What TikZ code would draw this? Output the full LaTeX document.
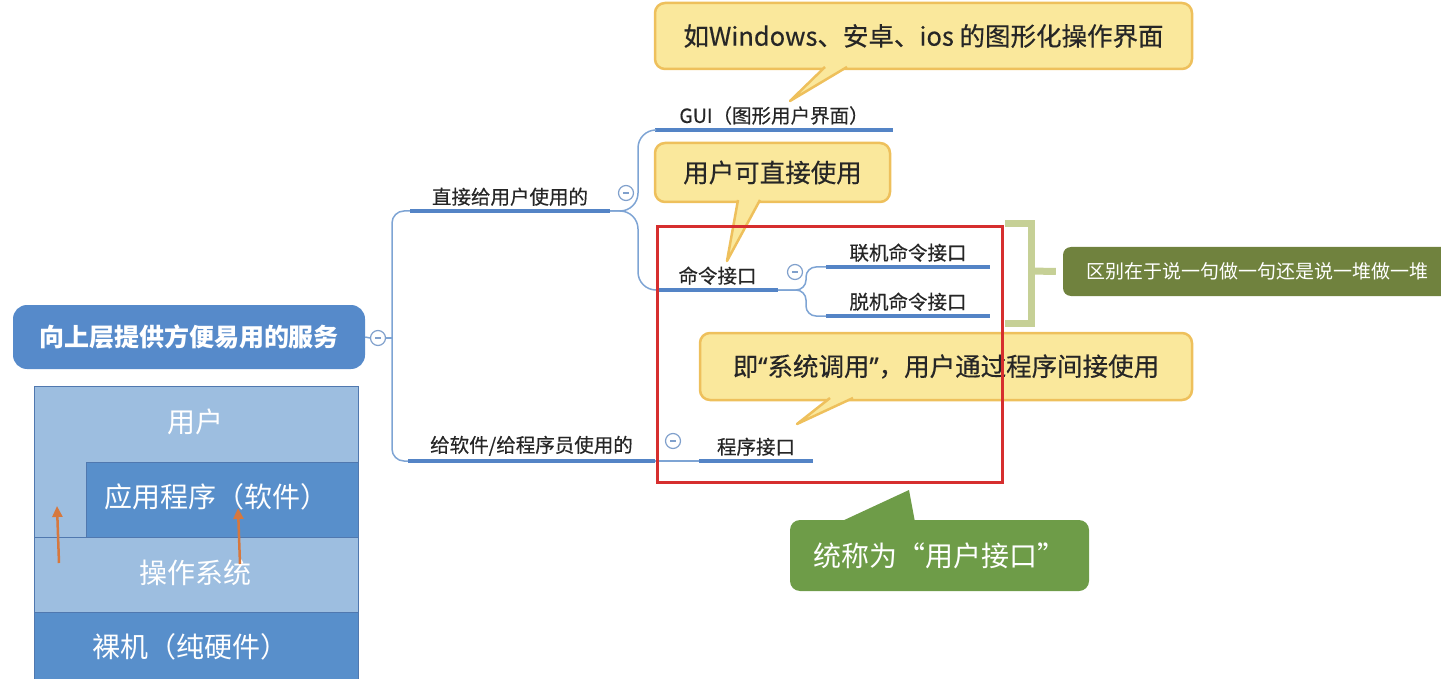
\documentclass[tikz,border=0pt]{standalone}
\usepackage{fontspec}
\setmainfont{Noto Sans CJK SC}
\newfontfamily\latinfont{Noto Sans}[FakeBold=0.4]
\newfontfamily\medfont{Noto Sans CJK SC}[FakeBold=0.4]
\usetikzlibrary{arrows.meta}

\definecolor{rootblue}{RGB}{86,138,202}
\definecolor{layerlight}{RGB}{157,190,224}
\definecolor{layerdark}{RGB}{88,143,203}
\definecolor{layerline}{RGB}{80,120,175}
\definecolor{lineblue}{RGB}{84,132,198}
\definecolor{thinblue}{RGB}{126,164,212}
\definecolor{foldblue}{RGB}{128,160,204}
\definecolor{noteyellow}{RGB}{250,232,156}
\definecolor{noteborder}{RGB}{238,192,92}
\definecolor{olive}{RGB}{112,130,62}
\definecolor{bracketgreen}{RGB}{198,208,150}
\definecolor{notegreen}{RGB}{110,156,72}
\definecolor{framered}{RGB}{214,46,46}
\definecolor{arroworange}{RGB}{214,120,62}
\definecolor{darktext}{RGB}{38,38,38}

\newcommand\rootfont{\fontsize{25}{27}\selectfont\bfseries}
\newcommand\topicfont{\medfont\fontsize{19.5}{22}\selectfont}
\newcommand\notefont{\medfont\fontsize{25.5}{28}\selectfont}
\newcommand\layerfont{\fontsize{28}{30}\selectfont}

% tail of a callout: fill, line, base y, left x, right x, tip
\newcommand\calltail[6]{%
  \fill[#1] (#4,#3) -- (#6) -- (#5,#3) -- cycle;
  \draw[#2] (#4,#3) -- (#6) -- (#5,#3);}

\tikzset{
  rootbox/.style={fill=rootblue, rounded corners=14pt, text=white, font=\rootfont,
    minimum width=352pt, minimum height=64pt},
  topic/.style={text=darktext, font=\topicfont, inner xsep=0pt, inner ysep=5pt,
    minimum width=#1, anchor=south},
  uline/.style={line width=4.5pt, lineblue},
  conn/.style={line width=1.5pt, thinblue},
  fold/.style={circle, draw=foldblue, fill=white, line width=1.2pt, minimum size=15pt, inner sep=0pt},
  note/.style={fill=noteyellow, draw=noteborder, line width=2.5pt, rounded corners=10pt,
    text=darktext, font=\notefont},
  notefill/.style={fill=noteyellow},
  noteline/.style={draw=noteborder, line width=2.5pt, line join=round},
  greennote/.style={fill=notegreen, rounded corners=10pt, text=white,
    font=\fontsize{28}{30}\selectfont, minimum width=299pt, minimum height=71pt},
  layer/.style={draw=layerline, line width=1pt},
  layertext/.style={text=white, font=\layerfont},
  upflow/.style={arroworange, line width=2.5pt, -{Triangle[length=11pt,width=10pt]}},
  frame/.style={draw=framered, line width=3pt, minimum width=345pt, minimum height=255pt},
  bracket/.style={bracketgreen, line width=7pt},
  diffbox/.style={fill=olive, rounded corners=8pt, text=white, font=\fontsize{19}{21}\selectfont,
    minimum width=389pt, minimum height=49pt}
}

\begin{document}
\begin{tikzpicture}[x=1pt, y=-1pt]
	\useasboundingbox (0,0) rectangle (1441,679);

	% layers
	\fill[layerlight, layer] (34,386) rectangle (358,537);
	\fill[layerdark, layer] (86,462) rectangle (358,537);
	\fill[layerlight, layer] (34,537) rectangle (358,612);
	\fill[layerdark, layer] (34,612) rectangle (358,690);
	\node[layertext] (user) at (195,422) {用户};
	\node[layertext] (app) at (216,497) {应用程序（软件）};
	\node[layertext] (os) at (195,573) {操作系统};
	\node[layertext] (hw) at (190,647) {裸机（纯硬件）};
	\coordinate (a1s) at (59,563);
	\coordinate (a1e) at (57,506);
	\coordinate (a2s) at (240,564);
	\coordinate (a2e) at (238,508);
	\draw[upflow] (a1s) -- (a1e);
	\draw[upflow] (a2s) -- (a2e);

	% mind map
	\node[rootbox] (root) at (189,337) {向上层提供方便易用的服务};
	\node[topic=200] (b1) at (510,211) {直接给用户使用的};
	\node[topic=247] (b2) at (531.5,461) {给软件/给程序员使用的};
	\node[topic=238] (gui) at (774,130) {GUI（图形用户界面）\hspace{8pt}};
	\node[topic=121] (cmd) at (717.5,290) {命令接口};
	\node[topic=164] (online) at (908,267) {联机命令接口};
	\node[topic=164] (offline) at (908,316) {脱机命令接口};
	\node[topic=114] (prog) at (756,461) {程序接口};
	\foreach \t in {b1,b2,gui,cmd,online,offline,prog}
		\draw[uline] (\t.south west) -- (\t.south east);

	\coordinate (t0) at (392,338);
	\coordinate (t1) at (638,211);
	\coordinate (t2) at (806,290);
	\draw[conn, rounded corners=12pt] (t0) |- (b1.south west);
	\draw[conn, rounded corners=12pt] (t0) |- (b2.south west);
	\draw[conn, rounded corners=18pt] (b1.south east) -- (t1) |- (gui.south west);
	\draw[conn, rounded corners=18pt] (b1.south east) -- (t1) |- (cmd.south west);
	\draw[conn, rounded corners=10pt] (cmd.south east) -- (t2) |- (online.south west);
	\draw[conn, rounded corners=10pt] (cmd.south east) -- (t2) |- (offline.south west);
	\draw[conn] (b2.south east) -- (prog.south west);

	\node[fold] (f0) at (378,338) {\color{foldblue}\rule{6pt}{1.2pt}};
	\node[fold] (f1) at (626,193) {\color{foldblue}\rule{6pt}{1.2pt}};
	\node[fold] (f2) at (795,272) {\color{foldblue}\rule{6pt}{1.2pt}};
	\node[fold] (f3) at (673,441) {\color{foldblue}\rule{6pt}{1.2pt}};
	\draw[conn] (root.east) -- (f0.west);
	\draw[conn] (f0.east) -- (t0);

	% notes
	\node[note, minimum width=537pt, minimum height=66pt] (c1) at (923.5,36) {如Windows、安卓、ios 的图形化操作界面};
	\coordinate (c1tip) at (790,101);
	\calltail{notefill}{noteline}{67}{825}{847}{c1tip}
	\node[note, minimum width=235pt, minimum height=59pt] (c2) at (772.5,172.5) {用户可直接使用};
	\coordinate (c2tip) at (727,261);
	\calltail{notefill}{noteline}{200}{738}{760}{c2tip}

	\node[note, minimum width=492pt, minimum height=67pt] (c3) at (946,366.5) {即{\latinfont“}系统调用{\latinfont”}，用户通过程序间接使用};
	\coordinate (c3tip) at (797,424);
	\calltail{notefill}{noteline}{398}{830}{853}{c3tip}

	\node[frame] (box) at (829.5,354.5) {};

	\draw[bracket] (1005,224) -- (1031,224) -- (1031,323) -- (1005,323);
	\node[diffbox] (diff) at (1257.5,271.5) {区别在于说一句做一句还是说一堆做一堆};
	\coordinate (bk) at (1031,271);
	\draw[bracket] (bk) -- ([xshift=-7pt]diff.west);

	\node[greennote] (c4) at (939.5,555.5) {统称为“用户接口”};
	\coordinate (c4tip) at (909,490);
	\fill[notegreen] (840,522) -- (c4tip) -- (915,522) -- cycle;
\end{tikzpicture}
\end{document}
